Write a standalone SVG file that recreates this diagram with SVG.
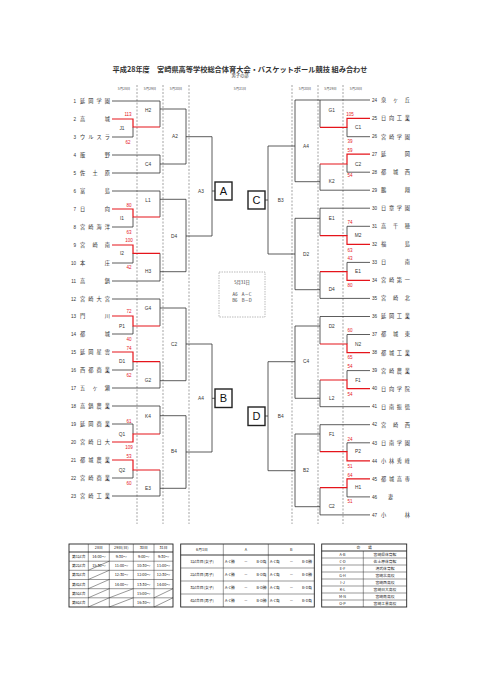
<svg xmlns="http://www.w3.org/2000/svg" width="481" height="680" viewBox="0 0 481 680">
<style>
.bg{fill:#fff}
.ln{stroke:#333;stroke-width:0.8;fill:none}
.rd{stroke:#e5141b;stroke-width:1.2;fill:none}
.dash{stroke:#666;stroke-width:0.6;stroke-dasharray:2,1.5;fill:none}
.jp{font-family:'Noto Sans CJK JP','Noto Sans',sans-serif;fill:#333}
.tn{font-size:5.2px}
.num{font-family:'Liberation Sans',sans-serif;font-size:4.6px;fill:#333}
.lb{font-family:'Liberation Sans',sans-serif;font-size:4.8px;fill:#333;text-anchor:middle}
.sc{font-family:'Liberation Sans',sans-serif;font-size:4.5px;fill:#e5141b;text-anchor:middle}
.hd{font-family:'Noto Sans CJK JP',sans-serif;font-size:3.4px;fill:#555;text-anchor:middle}
.box{fill:#fff;stroke:#222;stroke-width:1.4}
.big{font-family:'Liberation Sans',sans-serif;font-size:11px;fill:#111;text-anchor:middle}
.tb{fill:none;stroke:#333;stroke-width:0.5}
.tbo{fill:none;stroke:#222;stroke-width:0.9}
.tt{font-family:'Noto Sans CJK JP',sans-serif;font-size:3.8px;fill:#222;text-anchor:middle}
</style>
<rect class="bg" width="481" height="680"/>
<text class="jp" x="240" y="71.5" font-size="7.2" font-weight="bold" text-anchor="middle" textLength="255" lengthAdjust="spacingAndGlyphs" fill="#111">平成28年度　宮崎県高等学校総合体育大会・バスケットボール競技 組み合わせ</text>
<text class="jp" x="240" y="77" font-size="4.3" text-anchor="middle">男子の部</text>

<g id="headers">
<text class="hd" x="124" y="89.5">5月28日</text>
<text class="hd" x="150" y="89.5">5月29日</text>
<text class="hd" x="176" y="89.5">5月30日</text>
<text class="hd" x="240" y="89.5">5月31日</text>
<text class="hd" x="305" y="89.5">5月30日</text>
<text class="hd" x="330.5" y="89.5">5月29日</text>
<text class="hd" x="356" y="89.5">5月28日</text>
</g>
<g id="dividers">
<path class="dash" d="M137,85V524M163,85V524M189,85V524M292,85V524M318,85V524M343,85V524"/>
</g>

<g id="connectors">
<path class="ln" d="M112,101H160M112,137H133V127M112,155H160M112,173H160M160,101V127M160,109H186M160,155V173M160,164H186M186,109V164M186,136.7H212
M112,191H160M112,227H133V217M160,191V217M160,199.3H186M112,263H133V253.3M112,281H160M160,253.3V281M160,271.7H186M186,199.3V271.7M186,236H212M212,136.7V236M212,191H215
M112,299H160M160,299V326M160,308H186M112,334H133V326M112,370H133V361.7M112,388H160M160,361.7V388M160,380.7H186M186,308V380.7M186,344H212
M112,406H160M160,406V434M160,415.7H186M112,424H133V434M112,478H133V470M112,496H160M160,470V496M160,488.3H186M186,415.7V488.3M186,452H212M212,344V452M212,398.3H215"/>
<path class="rd" d="M112,119H133V127H160M112,209H133V217H160M112,245H133V253.3H160M112,316H133V326H160M112,352H133V361.7H160M112,442H133V434H160M112,460H133V470H160"/>
<path class="ln" d="M370,100H295M320,100V127.3M370,136.7H347V127.3M295,100V181.7H320M295,146H268M370,172.2H347V164M370,190.2H320M320,164V190.2
M370,208.2H320M320,208.2V235.7M320,218.3H295M370,226.3H347V235.7M370,262.4H347V271.7M370,298.4H320M320,271.7V298.4M320,289.7H295M295,218.3V289.7M295,254H268M268,146V254M268,200H265
M370,316.5H320M320,316.5V344M320,326H295M370,334.5H347V344M370,370.6H347V380M370,406.7H320M320,380V406.7M320,398.3H295M295,326V398.3M295,361.7H268
M370,424.7H320M320,424.7V451.7M320,434H295M370,442.8H347V451.7M370,496.9H347V487.7M370,514.9H320M320,487.7V514.9M320,506.7H295M295,434V506.7M295,470.7H268M268,361.7V470.7M268,416H265"/>
<path class="rd" d="M370,118.3H347V127.3H320M370,154.1H347V164H320M370,244.3H347V235.7H320M370,280.4H347V271.7H320M370,352.6H347V344H320M370,388.6H347V380H320M370,460.8H347V451.7H320M370,478.8H347V487.7H320"/>
</g>

<g id="teams-left" class="jp tn">
<g id="t1"><text class="num" x="76" y="102.7" text-anchor="end">1</text><text x="80" y="102.9" textLength="30" lengthAdjust="spacing">延岡学園</text></g>
<g id="t2"><text class="num" x="76" y="120.7" text-anchor="end">2</text><text x="80" y="120.9" textLength="30" lengthAdjust="spacing">高城</text></g>
<g id="t3"><text class="num" x="76" y="138.7" text-anchor="end">3</text><text x="80" y="138.9" textLength="30" lengthAdjust="spacing">ウルスラ</text></g>
<g id="t4"><text class="num" x="76" y="156.7" text-anchor="end">4</text><text x="80" y="156.9" textLength="30" lengthAdjust="spacing">飯野</text></g>
<g id="t5"><text class="num" x="76" y="174.7" text-anchor="end">5</text><text x="80" y="174.9" textLength="30" lengthAdjust="spacing">佐土原</text></g>
<g id="t6"><text class="num" x="76" y="192.7" text-anchor="end">6</text><text x="80" y="192.9" textLength="30" lengthAdjust="spacing">富島</text></g>
<g id="t7"><text class="num" x="76" y="210.7" text-anchor="end">7</text><text x="80" y="210.9" textLength="30" lengthAdjust="spacing">日向</text></g>
<g id="t8"><text class="num" x="76" y="228.7" text-anchor="end">8</text><text x="80" y="228.9" textLength="30" lengthAdjust="spacing">宮崎海洋</text></g>
<g id="t9"><text class="num" x="76" y="246.7" text-anchor="end">9</text><text x="80" y="246.9" textLength="30" lengthAdjust="spacing">宮崎南</text></g>
<g id="t10"><text class="num" x="76" y="264.7" text-anchor="end">10</text><text x="80" y="264.9" textLength="30" lengthAdjust="spacing">本庄</text></g>
<g id="t11"><text class="num" x="76" y="282.7" text-anchor="end">11</text><text x="80" y="282.9" textLength="30" lengthAdjust="spacing">高鍋</text></g>
<g id="t12"><text class="num" x="76" y="300.7" text-anchor="end">12</text><text x="80" y="300.9" textLength="30" lengthAdjust="spacing">宮崎大宮</text></g>
<g id="t13"><text class="num" x="76" y="317.7" text-anchor="end">13</text><text x="80" y="317.9" textLength="30" lengthAdjust="spacing">門川</text></g>
<g id="t14"><text class="num" x="76" y="335.7" text-anchor="end">14</text><text x="80" y="335.9" textLength="30" lengthAdjust="spacing">都城</text></g>
<g id="t15"><text class="num" x="76" y="353.7" text-anchor="end">15</text><text x="80" y="353.9" textLength="30" lengthAdjust="spacing">延岡星雲</text></g>
<g id="t16"><text class="num" x="76" y="371.7" text-anchor="end">16</text><text x="80" y="371.9" textLength="30" lengthAdjust="spacing">西都商業</text></g>
<g id="t17"><text class="num" x="76" y="389.7" text-anchor="end">17</text><text x="80" y="389.9" textLength="30" lengthAdjust="spacing">五ヶ瀬</text></g>
<g id="t18"><text class="num" x="76" y="407.7" text-anchor="end">18</text><text x="80" y="407.9" textLength="30" lengthAdjust="spacing">高鍋農業</text></g>
<g id="t19"><text class="num" x="76" y="425.7" text-anchor="end">19</text><text x="80" y="425.9" textLength="30" lengthAdjust="spacing">延岡商業</text></g>
<g id="t20"><text class="num" x="76" y="443.7" text-anchor="end">20</text><text x="80" y="443.9" textLength="30" lengthAdjust="spacing">宮崎日大</text></g>
<g id="t21"><text class="num" x="76" y="461.7" text-anchor="end">21</text><text x="80" y="461.9" textLength="30" lengthAdjust="spacing">都城農業</text></g>
<g id="t22"><text class="num" x="76" y="479.7" text-anchor="end">22</text><text x="80" y="479.9" textLength="30" lengthAdjust="spacing">宮崎商業</text></g>
<g id="t23"><text class="num" x="76" y="497.7" text-anchor="end">23</text><text x="80" y="497.9" textLength="30" lengthAdjust="spacing">宮崎工業</text></g>
</g>

<g id="teams-right" class="jp tn">
<g id="t24"><text class="num" x="372" y="101.7">24</text><text x="381" y="101.9" textLength="29" lengthAdjust="spacing">泉ヶ丘</text></g>
<g id="t25"><text class="num" x="372" y="120">25</text><text x="381" y="120.2" textLength="29" lengthAdjust="spacing">日向工業</text></g>
<g id="t26"><text class="num" x="372" y="138.4">26</text><text x="381" y="138.6" textLength="29" lengthAdjust="spacing">宮崎学園</text></g>
<g id="t27"><text class="num" x="372" y="155.8">27</text><text x="381" y="156" textLength="29" lengthAdjust="spacing">延岡</text></g>
<g id="t28"><text class="num" x="372" y="173.9">28</text><text x="381" y="174.1" textLength="29" lengthAdjust="spacing">都城西</text></g>
<g id="t29"><text class="num" x="372" y="191.9">29</text><text x="381" y="192.1" textLength="29" lengthAdjust="spacing">鵬翔</text></g>
<g id="t30"><text class="num" x="372" y="209.9">30</text><text x="381" y="210.1" textLength="29" lengthAdjust="spacing">日章学園</text></g>
<g id="t31"><text class="num" x="372" y="228">31</text><text x="381" y="228.2" textLength="29" lengthAdjust="spacing">高千穂</text></g>
<g id="t32"><text class="num" x="372" y="246">32</text><text x="381" y="246.2" textLength="29" lengthAdjust="spacing">福島</text></g>
<g id="t33"><text class="num" x="372" y="264.1">33</text><text x="381" y="264.3" textLength="29" lengthAdjust="spacing">日南</text></g>
<g id="t34"><text class="num" x="372" y="282.1">34</text><text x="381" y="282.3" textLength="29" lengthAdjust="spacing">宮崎第一</text></g>
<g id="t35"><text class="num" x="372" y="300.1">35</text><text x="381" y="300.3" textLength="29" lengthAdjust="spacing">宮崎北</text></g>
<g id="t36"><text class="num" x="372" y="318.2">36</text><text x="381" y="318.4" textLength="29" lengthAdjust="spacing">延岡工業</text></g>
<g id="t37"><text class="num" x="372" y="336.2">37</text><text x="381" y="336.4" textLength="29" lengthAdjust="spacing">都城東</text></g>
<g id="t38"><text class="num" x="372" y="354.3">38</text><text x="381" y="354.5" textLength="29" lengthAdjust="spacing">都城工業</text></g>
<g id="t39"><text class="num" x="372" y="372.3">39</text><text x="381" y="372.5" textLength="29" lengthAdjust="spacing">宮崎農業</text></g>
<g id="t40"><text class="num" x="372" y="390.3">40</text><text x="381" y="390.5" textLength="29" lengthAdjust="spacing">日向学院</text></g>
<g id="t41"><text class="num" x="372" y="408.4">41</text><text x="381" y="408.6" textLength="29" lengthAdjust="spacing">日南振徳</text></g>
<g id="t42"><text class="num" x="372" y="426.4">42</text><text x="381" y="426.6" textLength="29" lengthAdjust="spacing">宮崎西</text></g>
<g id="t43"><text class="num" x="372" y="444.5">43</text><text x="381" y="444.7" textLength="29" lengthAdjust="spacing">日南学園</text></g>
<g id="t44"><text class="num" x="372" y="462.5">44</text><text x="381" y="462.7" textLength="29" lengthAdjust="spacing">小林秀峰</text></g>
<g id="t45"><text class="num" x="372" y="480.5">45</text><text x="381" y="480.7" textLength="29" lengthAdjust="spacing">都城高専</text></g>
<g id="t46"><text class="num" x="372" y="498.6">46</text><text x="388" y="498.8" textLength="15" lengthAdjust="spacing">妻</text></g>
<g id="t47"><text class="num" x="372" y="516.6">47</text><text x="381" y="516.8" textLength="29" lengthAdjust="spacing">小林</text></g>
</g>

<g id="matches-left">
<g id="m-J1"><text class="lb" x="122" y="129.7">J1</text></g>
<g id="m-H2"><text class="lb" x="148" y="111.7">H2</text></g>
<g id="m-C4"><text class="lb" x="148" y="165.7">C4</text></g>
<g id="m-A2"><text class="lb" x="175" y="138.4">A2</text></g>
<g id="m-A3"><text class="lb" x="201" y="192.7">A3</text></g>
<g id="m-L1"><text class="lb" x="148" y="201.7">L1</text></g>
<g id="m-I1"><text class="lb" x="122" y="219.7">I1</text></g>
<g id="m-D4"><text class="lb" x="174" y="237.7">D4</text></g>
<g id="m-I2"><text class="lb" x="122" y="254.7">I2</text></g>
<g id="m-H3"><text class="lb" x="148" y="272.7">H3</text></g>
<g id="m-G4"><text class="lb" x="148" y="309.7">G4</text></g>
<g id="m-P1"><text class="lb" x="122" y="327.7">P1</text></g>
<g id="m-C2"><text class="lb" x="174" y="345.7">C2</text></g>
<g id="m-D1"><text class="lb" x="122" y="363.4">D1</text></g>
<g id="m-G2"><text class="lb" x="148" y="381.7">G2</text></g>
<g id="m-A4"><text class="lb" x="201" y="400">A4</text></g>
<g id="m-K4"><text class="lb" x="148" y="417.7">K4</text></g>
<g id="m-Q1"><text class="lb" x="122" y="436">Q1</text></g>
<g id="m-B4"><text class="lb" x="174" y="453.4">B4</text></g>
<g id="m-Q2"><text class="lb" x="122" y="471.7">Q2</text></g>
<g id="m-E3"><text class="lb" x="148" y="490">E3</text></g>
</g>

<g id="matches-right">
<g id="m-G1"><text class="lb" x="331.7" y="111.7">G1</text></g>
<g id="m-C1"><text class="lb" x="358" y="129.4">C1</text></g>
<g id="m-rA4"><text class="lb" x="306" y="147.7">A4</text></g>
<g id="m-rC2"><text class="lb" x="358" y="165.7">C2</text></g>
<g id="m-K2"><text class="lb" x="331.7" y="183.4">K2</text></g>
<g id="m-B3"><text class="lb" x="280.7" y="201.7">B3</text></g>
<g id="m-E1a"><text class="lb" x="331.7" y="220">E1</text></g>
<g id="m-M2"><text class="lb" x="358" y="237.4">M2</text></g>
<g id="m-rD2a"><text class="lb" x="306" y="255.7">D2</text></g>
<g id="m-E1b"><text class="lb" x="358" y="273.4">E1</text></g>
<g id="m-rD4"><text class="lb" x="331.7" y="290.7">D4</text></g>
<g id="m-rD2b"><text class="lb" x="331.7" y="327.7">D2</text></g>
<g id="m-N2"><text class="lb" x="358" y="345.7">N2</text></g>
<g id="m-rC4"><text class="lb" x="306" y="363.4">C4</text></g>
<g id="m-F1a"><text class="lb" x="358" y="381.7">F1</text></g>
<g id="m-L2"><text class="lb" x="331.7" y="400">L2</text></g>
<g id="m-rB4"><text class="lb" x="280.7" y="417.7">B4</text></g>
<g id="m-F1b"><text class="lb" x="331.7" y="435.7">F1</text></g>
<g id="m-P2"><text class="lb" x="358" y="453.4">P2</text></g>
<g id="m-B2"><text class="lb" x="306" y="472.4">B2</text></g>
<g id="m-H1"><text class="lb" x="358" y="489.4">H1</text></g>
<g id="m-rC2b"><text class="lb" x="331.7" y="508.4">C2</text></g>
</g>

<g id="scores">
<text class="sc" x="128" y="115.9">113</text><text class="sc" x="128" y="143.6">62</text>
<text class="sc" x="129" y="206.6">80</text><text class="sc" x="129" y="233.6">63</text>
<text class="sc" x="129" y="241.6">100</text><text class="sc" x="129" y="268.6">42</text>
<text class="sc" x="129" y="313.3">72</text><text class="sc" x="129" y="340.6">40</text>
<text class="sc" x="129" y="349.6">74</text><text class="sc" x="129" y="377.3">62</text>
<text class="sc" x="129" y="422.6">61</text><text class="sc" x="129" y="449.3">109</text>
<text class="sc" x="129" y="458.3">53</text><text class="sc" x="129" y="484.9">60</text>
<text class="sc" x="350" y="115.9">105</text><text class="sc" x="350" y="143.3">39</text>
<text class="sc" x="350" y="151.6">59</text><text class="sc" x="350" y="177.3">54</text>
<text class="sc" x="350" y="223.9">74</text><text class="sc" x="350" y="251.6">63</text>
<text class="sc" x="350" y="259.9">43</text><text class="sc" x="350" y="287.3">80</text>
<text class="sc" x="350" y="331.6">60</text><text class="sc" x="350" y="358.9">65</text>
<text class="sc" x="350" y="367.6">54</text><text class="sc" x="350" y="395.6">54</text>
<text class="sc" x="350" y="440.6">24</text><text class="sc" x="350" y="468.3">51</text>
<text class="sc" x="350" y="476.6">64</text><text class="sc" x="350" y="503.3">51</text>
</g>

<g id="box-A"><rect class="box" x="215" y="182" width="17" height="18"/><text class="big" x="223.5" y="195">A</text></g>
<g id="box-B"><rect class="box" x="215" y="389" width="17" height="18.5"/><text class="big" x="223.5" y="402.3">B</text></g>
<g id="box-C"><rect class="box" x="248" y="191" width="17" height="18"/><text class="big" x="256.5" y="204">C</text></g>
<g id="box-D"><rect class="box" x="248" y="407" width="17" height="18.5"/><text class="big" x="256.5" y="420.3">D</text></g>

<g id="final-note">
<rect x="219" y="272" width="46" height="45" fill="none" stroke="#777" stroke-width="0.5" stroke-dasharray="1.5,1"/>
<text class="jp" x="242" y="283.5" font-size="4.3" text-anchor="middle">5月31日</text>
<text class="jp" x="242" y="295.8" font-size="4.3" text-anchor="middle">A6　A－C</text>
<text class="jp" x="242" y="302.3" font-size="4.3" text-anchor="middle">B6　B－D</text>
</g>

<g id="table-schedule">
<rect class="tbo" x="69" y="544" width="104" height="63"/>
<path class="tb" d="M88.3,544V607M109.3,544V607M133.3,544V607M154,544V607M69,561.2H173M69,570.3H173M69,579.5H173M69,588.7H173M69,597.8H173"/>
<path class="tbo" d="M69,552H173"/>
<path class="tb" d="M88.3,570.3L109.3,561.2M88.3,579.5L109.3,570.3M88.3,588.7L109.3,579.5M88.3,597.8L109.3,588.7M88.3,607L109.3,597.8M109.3,597.8L133.3,588.7M109.3,607L133.3,597.8M154,597.8L173,588.7M154,607L173,597.8"/>
<text class="tt" x="98.8" y="549.3">28日</text><text class="tt" x="121.3" y="549.3">29日(日)</text><text class="tt" x="143.7" y="549.3">30日</text><text class="tt" x="163.5" y="549.3">31日</text>
<text class="tt" x="78.7" y="558">第1試合</text><text class="tt" x="78.7" y="567.2">第2試合</text><text class="tt" x="78.7" y="576.3">第3試合</text><text class="tt" x="78.7" y="585.5">第4試合</text><text class="tt" x="78.7" y="594.7">第5試合</text><text class="tt" x="78.7" y="603.8">第6試合</text>
<text class="tt" x="98.8" y="558">14:00～</text><text class="tt" x="98.8" y="567.2">15:30～</text>
<text class="tt" x="121.3" y="558">9:30～</text><text class="tt" x="121.3" y="567.2">11:00～</text><text class="tt" x="121.3" y="576.3">12:30～</text><text class="tt" x="121.3" y="585.5">14:00～</text>
<text class="tt" x="143.7" y="558">9:00～</text><text class="tt" x="143.7" y="567.2">10:30～</text><text class="tt" x="143.7" y="576.3">12:00～</text><text class="tt" x="143.7" y="585.5">13:30～</text><text class="tt" x="143.7" y="594.7">15:00～</text><text class="tt" x="143.7" y="603.8">16:30～</text>
<text class="tt" x="163.5" y="558">9:30～</text><text class="tt" x="163.5" y="567.2">11:00～</text><text class="tt" x="163.5" y="576.3">12:30～</text><text class="tt" x="163.5" y="585.5">14:00～</text>
</g>

<g id="table-june1">
<rect class="tbo" x="180.7" y="544" width="133.6" height="63"/>
<path class="tbo" d="M180.7,555H314.3"/>
<path class="tb" d="M223.3,544V607M268.3,544V607M180.7,568H314.3M180.7,581H314.3M180.7,594H314.3"/>
<text class="tt" x="202" y="550.8">6月1日</text><text class="tt" x="245.8" y="550.8">A</text><text class="tt" x="291.3" y="550.8">B</text>
<text class="tt" x="202" y="562.8">1試合目(女子)</text><text class="tt" x="202" y="575.8">2試合目(男子)</text><text class="tt" x="202" y="588.8">3試合目(女子)</text><text class="tt" x="202" y="601.8">4試合目(男子)</text>
<g class="tt">
<text x="230" y="562.8">A-C勝</text><text x="245.8" y="562.8">－</text><text x="261.5" y="562.8">B-D負</text>
<text x="230" y="575.8">A-C勝</text><text x="245.8" y="575.8">－</text><text x="261.5" y="575.8">B-D負</text>
<text x="230" y="588.8">A-C勝</text><text x="245.8" y="588.8">－</text><text x="261.5" y="588.8">B-D勝</text>
<text x="230" y="601.8">A-C勝</text><text x="245.8" y="601.8">－</text><text x="261.5" y="601.8">B-D勝</text>
<text x="275" y="562.8">A-C負</text><text x="291.3" y="562.8">－</text><text x="307" y="562.8">B-D勝</text>
<text x="275" y="575.8">A-C負</text><text x="291.3" y="575.8">－</text><text x="307" y="575.8">B-D勝</text>
<text x="275" y="588.8">A-C負</text><text x="291.3" y="588.8">－</text><text x="307" y="588.8">B-D負</text>
<text x="275" y="601.8">A-C負</text><text x="291.3" y="601.8">－</text><text x="307" y="601.8">B-D負</text>
</g>
</g>

<g id="table-venue">
<rect class="tbo" x="321.7" y="544" width="85" height="63"/>
<path class="tbo" d="M321.7,551H406.7"/>
<path class="tb" d="M363.3,551V607M321.7,558H406.7M321.7,565H406.7M321.7,572H406.7M321.7,579H406.7M321.7,586H406.7M321.7,593H406.7M321.7,600H406.7"/>
<text class="tt" x="364.2" y="549">会　　場</text>
<text class="tt" x="342.5" y="555.8">A-B</text><text class="tt" x="385" y="555.8">宮崎県体育館</text>
<text class="tt" x="342.5" y="562.8">C-D</text><text class="tt" x="385" y="562.8">佐土原体育館</text>
<text class="tt" x="342.5" y="569.8">E-F</text><text class="tt" x="385" y="569.8">清武体育館</text>
<text class="tt" x="342.5" y="576.8">G-H</text><text class="tt" x="385" y="576.8">宮崎北高校</text>
<text class="tt" x="342.5" y="583.8">I-J</text><text class="tt" x="385" y="583.8">宮崎西高校</text>
<text class="tt" x="342.5" y="590.8">K-L</text><text class="tt" x="385" y="590.8">宮崎日大高校</text>
<text class="tt" x="342.5" y="597.8">M-N</text><text class="tt" x="385" y="597.8">宮崎南高校</text>
<text class="tt" x="342.5" y="604.8">O-P</text><text class="tt" x="385" y="604.8">宮崎工業高校</text>
</g>
</svg>
